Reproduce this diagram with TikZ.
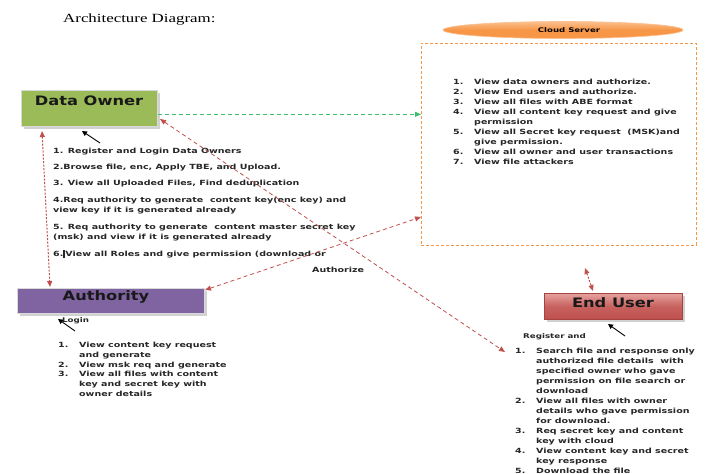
\documentclass[tikz,border=0pt]{standalone}
\usepackage{fontspec}
\usetikzlibrary{arrows.meta,shapes.geometric}
\newfontfamily\lstf[FakeStretch=1.34]{DejaVu Sans}
\newfontfamily\hdf[FakeStretch=1.25]{DejaVu Sans}
\newfontfamily\ttlf[FakeStretch=1.35]{Liberation Serif}
\definecolor{dogreen}{HTML}{9BBB59}
\definecolor{aupurple}{HTML}{8064A2}
\definecolor{eured}{HTML}{C0504D}
\definecolor{eulight}{HTML}{E8A3A0}
\definecolor{cloudor}{HTML}{F79646}
\definecolor{cloudlt}{HTML}{FBC08F}
\definecolor{arrred}{HTML}{C0504D}
\definecolor{arrgreen}{HTML}{3DBE6E}
\newcommand\nm[1]{\makebox[21pt][l]{#1}}
\newcommand\ind{\hspace*{21pt}}
\tikzset{
  roleshadow/.style={fill=black!18, draw=none},
  rolebox/.style={draw=white!85!black, line width=0.6pt, inner sep=0pt},
  roletext/.style={font=\hdf\bfseries\fontsize{13}{15}\selectfont, inner sep=0pt, text=black!90},
  listtext/.style={font=\lstf\bfseries\fontsize{7.1}{10}\selectfont, align=left, inner sep=0pt, anchor=north west, text=black!85},
  redlink/.style={draw=arrred, dashed, dash pattern=on 4pt off 3pt, line width=0.8pt, {Triangle[length=6pt,width=5pt]}-{Triangle[length=6pt,width=5pt]}},
  reddot/.style={draw=arrred, dash pattern=on 2pt off 1.5pt, line width=1pt, {Triangle[length=6pt,width=5pt]}-{Triangle[length=6pt,width=5pt]}},
  greenlink/.style={draw=arrgreen, dash pattern=on 4pt off 3pt, line width=0.8pt, -{Triangle[length=6pt,width=5pt]}},
  blackarr/.style={draw=black, line width=0.9pt, -{Triangle[length=5pt,width=5pt]}},
}
\begin{document}
\begin{tikzpicture}[x=1pt,y=-1pt]
\useasboundingbox (0,0) rectangle (707,474);
% title
\node[font=\ttlf\fontsize{12.5}{14}\selectfont, anchor=west, inner sep=0pt] (title) at (63,20) {Architecture Diagram:};

% Data Owner
\fill[roleshadow] (24,93) rectangle (160,129);
\node[rolebox, fill=dogreen, minimum width=136pt, minimum height=36pt, anchor=north west] (do) at (21,90) {};
\node[roletext] (dot) at (89,101) {Data Owner};

% Authority
\fill[roleshadow] (20,291) rectangle (207,316);
\node[rolebox, fill=aupurple, minimum width=187pt, minimum height=25pt, anchor=north west] (au) at (17,288) {};
\node[roletext] (aut) at (106,297) {Authority};

% End User
\fill[roleshadow] (547,296) rectangle (685,322);
\node[draw=eured!85!black, line width=0.6pt, top color=eulight, bottom color=eured, middle color=eured!90, minimum width=138pt, minimum height=26pt, anchor=north west, inner sep=0pt] (eu) at (544,293) {};
\node[roletext] (eut) at (613,303) {End User};

% Cloud server
\node[ellipse, draw=cloudlt, line width=0.6pt, top color=cloudlt, bottom color=cloudor, middle color=cloudor, minimum width=240pt, minimum height=17pt, inner sep=0pt] (cs) at (563,30) {};
\node[font=\lstf\bfseries\fontsize{6.4}{8}\selectfont, inner sep=0pt] (cst) at (569,30) {Cloud Server};
\node[draw=cloudor, dash pattern=on 3pt off 2pt, line width=0.9pt, minimum width=275pt, minimum height=202pt, anchor=north west, inner sep=0pt] (cb) at (421,43) {};

% cloud list
\node[listtext] (cl) at (453,79) {%
\nm{1.}View data owners and authorize.\\
\nm{2.}View End users and authorize.\\
\nm{3.}View all files with ABE format\\
\nm{4.}View all content key request and give\\
\ind permission\\
\nm{5.}View all Secret key request \ (MSK)and\\
\ind give permission.\\
\nm{6.}View all owner and user transactions\\
\nm{7.}View file attackers};

% data owner list
\node[listtext] (dl1) at (53,148) {1. Register and Login Data Owners};
\node[listtext] (dl2) at (53,164) {2.Browse file, enc, Apply TBE, and Upload.};
\node[listtext] (dl3) at (53,180) {3. View all Uploaded Files, Find deduplication};
\node[listtext] (dl4) at (53,197) {4.Req authority to generate \ content key(enc key) and\\view key if it is generated already};
\node[listtext] (dl5) at (53,224) {5. Req authority to generate \ content master secret key\\(msk) and view if it is generated already};
\node[listtext] (dl6) at (53,250) {6.\rule[-1pt]{2pt}{7.5pt}View all Roles and give permission (download or};
\node[listtext] (auz) at (312,267) {Authorize};

% authority list
\node[listtext, font=\lstf\bfseries\fontsize{7.1}{9.8}\selectfont] (al) at (58,342) {%
\nm{1.}View content key request\\
\ind and generate\\
\nm{2.}View msk req and generate\\
\nm{3.}View all files with content\\
\ind key and secret key with\\
\ind owner details};
\node[listtext, font=\lstf\bfseries\fontsize{6.5}{8}\selectfont] (login) at (62,317) {Login};

% end user list
\node[listtext, font=\lstf\bfseries\fontsize{6.5}{8}\selectfont] (reg) at (523,333) {Register and};
\node[listtext] (el) at (515,348) {%
\nm{1.}Search file and response only\\
\ind authorized file details \ with\\
\ind specified owner who gave\\
\ind permission on file search or\\
\ind download\\
\nm{2.}View all files with owner\\
\ind details who gave permission\\
\ind for download.\\
\nm{3.}Req secret key and content\\
\ind key with cloud\\
\nm{4.}View content key and secret\\
\ind key response\\
\nm{5.}Download the file};

% coordinates for connector ends
\coordinate (doR) at ([yshift=-6pt]do.east);
\coordinate (cbL) at (cb.west |- doR);
\coordinate (doSE) at (160,119);
\coordinate (euL) at (505,352);
\coordinate (auNE) at (205,290);
\coordinate (cbL2) at (421,217);
\coordinate (doB) at (42,131);
\coordinate (auT) at (50,287);
\coordinate (cbB) at (585,268);
\coordinate (euT) at (593,291);
\coordinate (a1s) at (100,143);
\coordinate (a1e) at (82,131);
\coordinate (a2s) at (75,331);
\coordinate (a2e) at (58,319);
\coordinate (a3s) at (625,336);
\coordinate (a3e) at (608,324);

\draw[greenlink] (doR) -- (cbL);
\draw[redlink] (doSE) -- (euL);
\draw[redlink] (auNE) -- (cbL2);
\draw[reddot] (doB) -- (auT);
\draw[reddot] (cbB) -- (euT);
\draw[blackarr] (a1s) -- (a1e);
\draw[blackarr] (a2s) -- (a2e);
\draw[blackarr] (a3s) -- (a3e);
\end{tikzpicture}
\end{document}
